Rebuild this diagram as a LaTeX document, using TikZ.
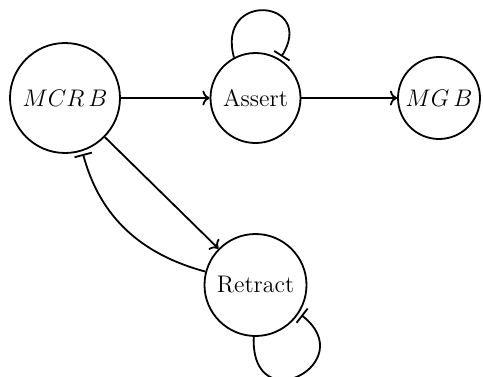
\documentclass[tikz,border=0pt]{standalone}
\usetikzlibrary{arrows.meta}
\begin{document}
\begin{tikzpicture}[x=0.5pt,y=0.5pt,line width=0.9pt,
  state/.style={circle,draw,inner sep=0pt,font=\fontsize{12}{14}\selectfont},
  act/.style={->},
  inh/.style={-{Bar[width=9pt]},shorten >=1.5pt}]
\useasboundingbox (0,0) rectangle (483,-376);
\node[state,minimum size=55pt] (M) at (65,-98) {$MCR\,B$};
\node[state,minimum size=45pt] (A) at (255.5,-98) {Assert};
\node[state,minimum size=41pt] (G) at (439,-98) {$MG\,B$};
\node[state,minimum size=51pt] (R) at (255.5,-285) {Retract};
\draw[act] (M) -- (A);
\draw[act] (A) -- (G);
\draw[act] (M) -- (R);
\draw[inh] (R.165) to[out=165,in=-75] (M.-72);
\draw[inh] (A.118) .. controls +(105:70) and +(58:70) .. (A.58);
\draw[inh] (R.268) .. controls +(-92:85) and +(-38:80) .. (R.-33);
\end{tikzpicture}
\end{document}
